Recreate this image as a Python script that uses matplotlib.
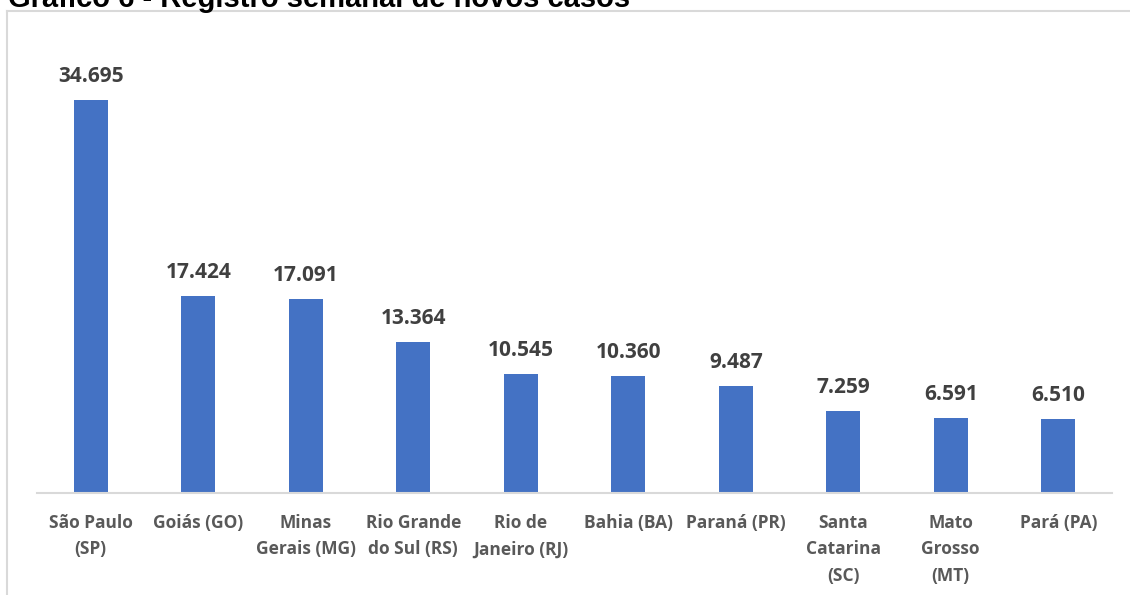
import matplotlib
matplotlib.use("Agg")
import matplotlib.pyplot as plt
from matplotlib.lines import Line2D

categories = ["São Paulo\n(SP)", "Goiás (GO)", "Minas\nGerais (MG)", "Rio Grande\ndo Sul (RS)",
              "Rio de\nJaneiro (RJ)", "Bahia (BA)", "Paraná (PR)", "Santa\nCatarina\n(SC)",
              "Mato\nGrosso\n(MT)", "Pará (PA)"]
values = [34695, 17424, 17091, 13364, 10545, 10360, 9487, 7259, 6591, 6510]
title = "Gráfico 6 - Registro semanal de novos casos"

W, H = 1130, 595
fig = plt.figure(figsize=(W / 100, H / 100), dpi=100)
fig.patch.set_facecolor("white")

ax = fig.add_axes([37 / W, (H - 493) / H, (1112 - 37) / W, (493 - 40) / H])
x = list(range(len(categories)))
bars = ax.bar(x, values, width=0.32, color="#4472C4", zorder=2)
ax.set_xlim(-0.5, len(categories) - 0.5)
ax.set_ylim(0, 40000)

for sp in ["top", "right", "left"]:
    ax.spines[sp].set_visible(False)
ax.spines["bottom"].set_color("#d9d9d9")
ax.spines["bottom"].set_linewidth(1.5)
ax.set_yticks([])
ax.set_xticks(x)
ax.set_xticklabels(categories, fontsize=12.5, fontweight="bold", color="#595959",
                   family=["Open Sans", "DejaVu Sans"], linespacing=1.6)
ax.tick_params(axis="x", length=0, pad=15)

for xi, v in zip(x, values):
    label = f"{v:,}".replace(",", ".")
    ax.annotate(label, (xi, v), xytext=(0, 13), textcoords="offset points",
                ha="center", va="baseline", fontsize=15, fontweight="bold",
                color="#404040", family=["Open Sans", "DejaVu Sans"])

# chart frame (cropped)
fig.add_artist(Line2D([7 / W, 7 / W], [0, (H - 11) / H], color="#d9d9d9", linewidth=1.5,
                      transform=fig.transFigure))
fig.add_artist(Line2D([7 / W, 1], [(H - 11) / H, (H - 11) / H], color="#d9d9d9", linewidth=1.5,
                      transform=fig.transFigure))

fig.text(8 / W, (H - 7) / H, title, fontsize=21, fontweight="bold", color="black",
         family=["Liberation Sans", "DejaVu Sans"], ha="left", va="baseline")

fig.savefig("out.png", dpi=100)
